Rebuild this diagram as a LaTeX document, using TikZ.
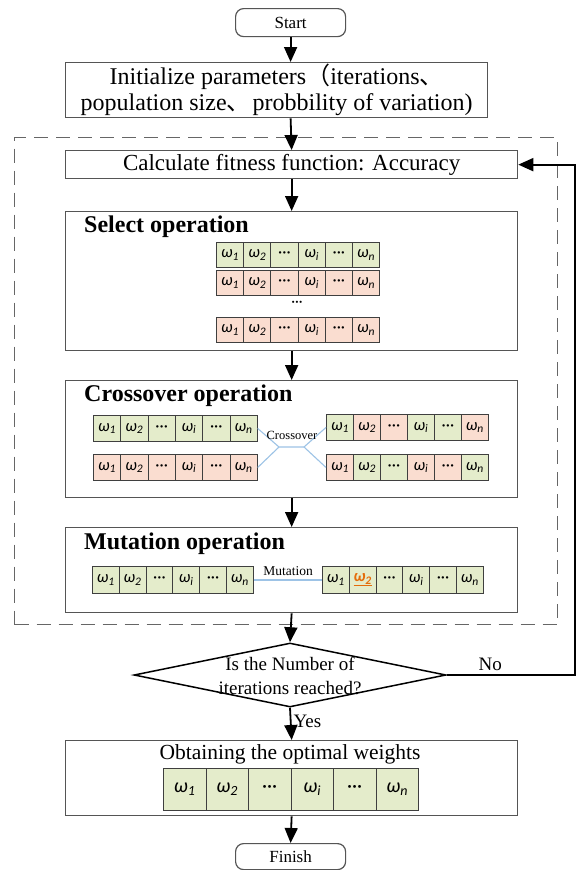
\documentclass[tikz,border=0pt]{standalone}
\usepackage{fontspec}
\setmainfont{Liberation Serif}
\newfontfamily\cjk{Noto Sans CJK SC}
\newfontfamily\cf{Carlito}
\usetikzlibrary{arrows.meta,shapes.geometric}
\definecolor{gcell}{HTML}{E4ECCB}
\definecolor{pcell}{HTML}{FADDD0}
\definecolor{bordc}{HTML}{555555}
\definecolor{cellb}{HTML}{3F3F3F}
\definecolor{xline}{HTML}{9DC3E6}
\definecolor{mutc}{HTML}{E46C0A}
\newcommand\fs[2]{\fontsize{#1}{#2}\selectfont}
\newcommand\wsub[1]{ω\textsubscript{#1}}
\newcommand\dd{{\upshape ···}}
% name, left x, top y, cell width, height, font size, list color/text
\newcommand\chrom[7]{%
  \foreach[count=\k] \c/\t in {#7}{%
    \node[cell, fill=\c, minimum width=#4pt, minimum height=#5pt, anchor=north west,
          font=\cf\itshape\fs{#6}{#6}] (#1-\k) at ({#2+(\k-1)*#4}, #3) {\t};
  }}
\tikzset{
  cell/.style={draw=cellb, line width=0.9pt, inner sep=0pt},
  box/.style={draw=bordc, line width=1.3pt, inner sep=0pt, anchor=north west},
  term/.style={draw=bordc, line width=1.2pt, rounded corners=8pt, inner sep=0pt, anchor=north west, font=\fs{17}{19}},
  arr/.style={line width=1.8pt, -{Triangle[width=13pt,length=15pt]}},
  title/.style={font=\bfseries\fs{24}{26}, inner sep=0pt, anchor=north west},
  xl/.style={draw=xline, line width=1.1pt},
  dashbox/.style={draw=black!60, line width=1.3pt, dash pattern=on 14pt off 8pt, inner sep=0pt, anchor=north west}
}
\begin{document}
\begin{tikzpicture}[x=1pt,y=-1pt]
\useasboundingbox (0,0) rectangle (576,870);
\fill[white] (0,0) rectangle (576,870);

% terminals
\node[term, minimum width=110pt, minimum height=28pt] (start) at (235,8) {Start};
\node[term, minimum width=110pt, minimum height=26pt] (finish) at (235,843) {Finish};

% init
\node[box, minimum width=422pt, minimum height=55pt, align=center, font=\fs{24}{26}] (init) at (65,62)
  {Initialize parameters{\cjk （}iterations{\cjk 、}\\population size{\cjk 、}\kern2pt probbility of variation)};

% dashed loop frame
\node[dashbox, minimum width=543pt, minimum height=487pt] (loop) at (14,137) {};

% calc
\node[box, minimum width=452pt, minimum height=28pt, font=\fs{23}{25}] (calc) at (65,150)
  {Calculate fitness function: Accuracy};

% select
\node[box, minimum width=452pt, minimum height=139pt] (sel) at (65,211) {};
\node[title] (selt) at (84,216) {Select operation};
\chrom{s1}{216}{242}{27.2}{25}{16.5}{gcell/\wsub{1},gcell/\wsub{2},gcell/\dd,gcell/\wsub{i},gcell/\dd,gcell/\wsub{n}}
\chrom{s2}{216}{270}{27.2}{25}{16.5}{pcell/\wsub{1},pcell/\wsub{2},pcell/\dd,pcell/\wsub{i},pcell/\dd,pcell/\wsub{n}}
\node[font=\cf\fs{15}{15}, inner sep=0pt] (sdots) at (297,304) {···};
\chrom{s3}{216}{317}{27.2}{25}{16.5}{pcell/\wsub{1},pcell/\wsub{2},pcell/\dd,pcell/\wsub{i},pcell/\dd,pcell/\wsub{n}}

% crossover
\node[box, minimum width=452pt, minimum height=117pt] (cro) at (65,380) {};
\node[title] (crot) at (84,385) {Crossover operation};
\chrom{cl1}{93}{415}{27.3}{26}{16.5}{gcell/\wsub{1},gcell/\wsub{2},gcell/\dd,gcell/\wsub{i},gcell/\dd,gcell/\wsub{n}}
\chrom{cl2}{93}{454}{27.3}{26}{16.5}{pcell/\wsub{1},pcell/\wsub{2},pcell/\dd,pcell/\wsub{i},pcell/\dd,pcell/\wsub{n}}
\chrom{cr1}{326}{414}{27.0}{26}{16.5}{gcell/\wsub{1},pcell/\wsub{2},pcell/\dd,gcell/\wsub{i},gcell/\dd,pcell/\wsub{n}}
\chrom{cr2}{326}{454}{27.0}{26}{16.5}{pcell/\wsub{1},gcell/\wsub{2},gcell/\dd,pcell/\wsub{i},pcell/\dd,gcell/\wsub{n}}
\coordinate (jl) at (279,447);
\coordinate (jr) at (304,447);
\draw[xl] (cl1-6.east) -- (jl) -- (jr) -- (cr2-1.west);
\draw[xl] (cl2-6.east) -- (jl);
\draw[xl] (jr) -- (cr1-1.west);
\node[font=\fs{12.5}{13}, inner sep=1pt] (crol) at (292,435) {Crossover};

% mutation
\node[box, minimum width=452pt, minimum height=85pt] (mut) at (65,527) {};
\node[title] (mutt) at (84,533) {Mutation operation};
\chrom{ml}{92}{566}{26.8}{27}{16.5}{gcell/\wsub{1},gcell/\wsub{2},gcell/\dd,gcell/\wsub{i},gcell/\dd,gcell/\wsub{n}}
\chrom{mr}{322}{566}{26.8}{27}{16.5}{gcell/\wsub{1},gcell/{\color{mutc}\bfseries\underline{\wsub{2}}},gcell/\dd,gcell/\wsub{i},gcell/\dd,gcell/\wsub{n}}
\draw[xl] (ml-6.east) -- (mr-1.west);
\node[font=\fs{13.5}{14}, inner sep=1pt, anchor=south] (mutl) at (288,577) {Mutation};

% decision
\node[diamond, draw=black, line width=1.5pt, minimum width=312pt, minimum height=64pt, inner sep=0pt] (dec) at (290,675) {};
\node[align=center, font=\fs{19}{24}, inner sep=0pt] (dect) at (290,676) {Is the Number of\\iterations reached?};

% obtain
\node[box, minimum width=452pt, minimum height=75pt] (obt) at (65,740) {};
\node[font=\fs{21.5}{23}, inner sep=0pt, anchor=north] (obtt) at (290,744) {Obtaining the optimal weights};
\chrom{o}{163}{768}{42.5}{42}{20}{gcell/\wsub{1},gcell/\wsub{2},gcell/\dd,gcell/\wsub{i},gcell/\dd,gcell/\wsub{n}}

% arrows
\coordinate (fbx) at (575,0);
\draw[arr] (start.south) -- (start.south |- init.north);
\draw[arr] (start.south |- init.south) -- (calc.north);
\draw[arr] (calc.south) -- (sel.north);
\draw[arr] (sel.south) -- (cro.north);
\draw[arr] (cro.south) -- (mut.north);
\draw[arr] (mut.south) -- (dec.north);
\draw[arr] (dec.south) -- node[right, pos=0.42, font=\fs{19}{20}, inner sep=2pt] (yes) {Yes} (obt.north);
\draw[arr] (obt.south) -- (finish.north);
\draw[arr] (dec.east) -- node[above, pos=0.34, font=\fs{19}{20}, inner sep=3pt] (no) {No} (dec.east -| fbx) |- (calc.east);
\end{tikzpicture}
\end{document}
